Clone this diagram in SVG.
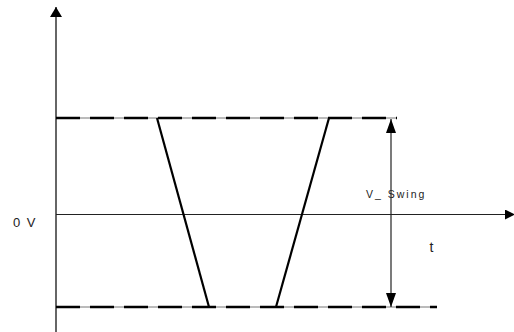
<svg xmlns="http://www.w3.org/2000/svg" width="514" height="332" viewBox="0 0 514 332">
<style>
.axis{stroke:#333;stroke-width:1.5;fill:none}
.thin{stroke:#222;stroke-width:1.2;fill:none}
.under{stroke:#777;stroke-width:1;fill:none}
.dash{stroke:#000;stroke-width:2.5;stroke-dasharray:24 10;fill:none}
.edge{stroke:#000;stroke-width:2.2;fill:none}
.lbl{font-family:"Liberation Sans",Arial,sans-serif;fill:#222}
</style>
<defs>
<marker id="ah" viewBox="0 0 10 10" refX="10" refY="5" markerWidth="10" markerHeight="10" markerUnits="userSpaceOnUse" orient="auto-start-reverse">
<path d="M0,0 L10,5 L0,10 z" fill="#000"/>
</marker>
<marker id="ahBig" viewBox="0 0 10 12" refX="10" refY="6" markerWidth="10" markerHeight="13" markerUnits="userSpaceOnUse" orient="auto">
<path d="M0,0 L10,6 L0,12 z" fill="#000"/>
</marker>
<marker id="ahV" viewBox="0 0 14 10" refX="14" refY="5" markerWidth="14" markerHeight="10" markerUnits="userSpaceOnUse" orient="auto-start-reverse">
<path d="M0,0 L14,5 L0,10 z" fill="#000"/>
</marker>
</defs>
<g id="connectors">
<line id="y-axis" class="axis" x1="56" y1="332" x2="56" y2="7" marker-end="url(#ahBig)"/>
<line id="zero-line" class="thin" x1="56" y1="214.5" x2="515" y2="214.5" marker-end="url(#ah)"/>
<line class="under" x1="56" y1="118" x2="397" y2="118"/>
<line id="high-level" class="dash" x1="56" y1="118" x2="397" y2="118"/>
<line class="under" x1="56" y1="307" x2="437" y2="307"/>
<line id="low-level" class="dash" x1="56" y1="307" x2="437" y2="307"/>
<line id="falling-edge" class="edge" x1="157" y1="118" x2="209" y2="307"/>
<line id="rising-edge" class="edge" x1="329" y1="118" x2="276" y2="307"/>
<line id="swing-arrow" class="thin" x1="391" y1="119" x2="391" y2="307" marker-start="url(#ahV)" marker-end="url(#ahV)"/>
</g>
<g id="label-0v"><text class="lbl" x="13" y="227" font-size="13" letter-spacing="1.5">0 V</text></g>
<g id="label-swing"><text class="lbl" x="366" y="198" font-size="10.5" letter-spacing="2">V_ Swing</text></g>
<g id="label-t"><text class="lbl" x="429.5" y="252" font-size="14">t</text></g>
</svg>
